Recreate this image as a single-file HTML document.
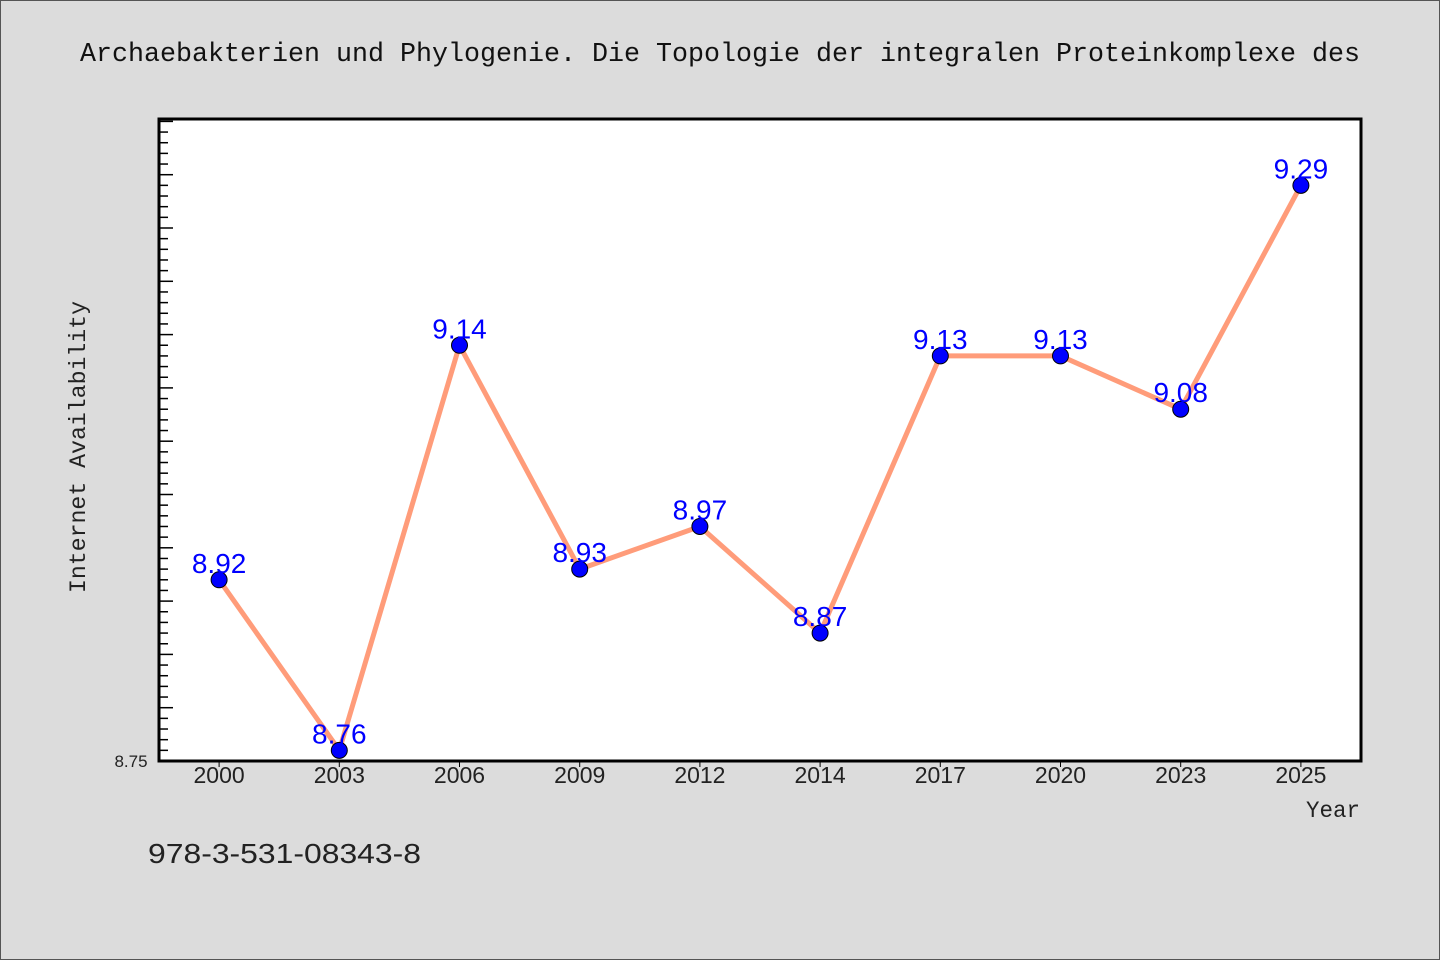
<!DOCTYPE html>
<html><head><meta charset="utf-8"><style>
html,body{margin:0;padding:0;background:#dcdcdc}
svg{display:block}
</style></head><body>
<svg id="chart" width="1440" height="960" xmlns="http://www.w3.org/2000/svg">
<rect x="0.5" y="0.5" width="1439" height="959" fill="#dcdcdc" stroke="#555"/>
<text x="720" y="61" text-anchor="middle" font-family="Liberation Mono, monospace" font-size="27" textLength="1280" lengthAdjust="spacingAndGlyphs" fill="#111">Archaebakterien und Phylogenie. Die Topologie der integralen Proteinkomplexe des</text>
<rect x="159" y="119" width="1202" height="642" fill="#fff"/>
<g id="ticks"></g>
<g id="series"></g>
<rect x="159" y="119" width="1202" height="642" fill="none" stroke="#000" stroke-width="3"/>
<text x="131" y="767" text-anchor="middle" font-family="Liberation Sans, sans-serif" font-size="17" fill="#222">8.75</text>
<text transform="translate(85,447) rotate(-90)" text-anchor="middle" font-family="Liberation Mono, monospace" font-size="23" textLength="292" lengthAdjust="spacingAndGlyphs" fill="#222">Internet Availability</text>
<text x="1360" y="817" text-anchor="end" font-family="Liberation Mono, monospace" font-size="23" textLength="54" lengthAdjust="spacingAndGlyphs" fill="#222">Year</text>
<text x="148" y="863" font-family="Liberation Sans, sans-serif" font-size="28" textLength="273" lengthAdjust="spacingAndGlyphs" fill="#222">978-3-531-08343-8</text>
</svg>
<script>
const categories = ["2000","2003","2006","2009","2012","2014","2017","2020","2023","2025"];
const values = [8.92, 8.76, 9.14, 8.93, 8.97, 8.87, 9.13, 9.13, 9.08, 9.29];
const valueLabels = ["8.92","8.76","9.14","8.93","8.97","8.87","9.13","9.13","9.08","9.29"];
const yMin = 8.75;

const NS = "http://www.w3.org/2000/svg";
const L = 159, T = 119, W = 1202, H = 642;
const yMax = yMin + H / 1066;
function y(v){ return T + H - (v - yMin) / (yMax - yMin) * H; }
function x(i){ return L + W / categories.length * (i + 0.5); }
function mk(tag, attrs, parent){ const e = document.createElementNS(NS, tag); for (const k in attrs) e.setAttribute(k, attrs[k]); parent.appendChild(e); return e; }

const ticks = document.getElementById('ticks');
for (let k = 0; ; k++) {
  const v = yMin + k * 0.01;
  const yy = y(v);
  if (yy < T + 2) break;
  const len = (k % 5 === 0) ? 14 : 9;
  const t = mk('line', {x1: L, x2: L + len, y1: yy, y2: yy, stroke: '#000', 'stroke-width': 1.5}, ticks);
  
  
}
categories.forEach((c, i) => {
  const t = mk('line', {x1: x(i), x2: x(i), y1: T + H, y2: T + H + 6, stroke: '#000', 'stroke-width': 1}, ticks);
  
  
  const lb = mk('text', {x: x(i), y: 783, 'text-anchor': 'middle', 'font-family': 'Liberation Sans, sans-serif', 'font-size': 23, fill: '#222'}, ticks);
  lb.textContent = c;
  
  
});

const s = document.getElementById('series');
const pts = values.map((v, i) => x(i) + ',' + y(v)).join(' ');
const line = mk('polyline', {points: pts, fill: 'none', stroke: '#ff9c7a', 'stroke-width': 5, 'stroke-linejoin': 'round'}, s);


values.forEach((v, i) => {
  const p = mk('circle', {cx: x(i), cy: y(v), r: 8, fill: '#0000ff', stroke: '#000', 'stroke-width': 1}, s);
  
  
  const lb = mk('text', {x: x(i), y: y(v) - 7, 'text-anchor': 'middle', 'font-family': 'Liberation Sans, sans-serif', 'font-size': 28, fill: '#0000ff'}, s);
  lb.textContent = valueLabels[i];
  
  
});
</script>
</body></html>
